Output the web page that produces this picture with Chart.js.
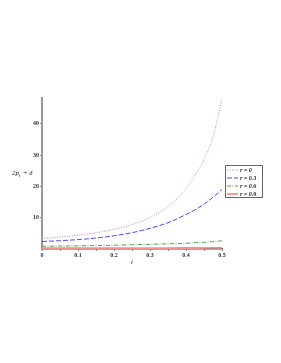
<!DOCTYPE html>
<html>
<head>
<meta charset="utf-8">
<script src="https://cdn.jsdelivr.net/npm/chart.js@4.4.1/dist/chart.umd.min.js"></script>
<style>
  html, body { margin: 0; padding: 0; background: #fff; }
  #wrap { width: 281px; height: 363px; }
</style>
</head>
<body>
<div id="wrap"><canvas id="chart" width="281" height="363"></canvas></div>
<script>
const tValues = [0, 0.05, 0.1, 0.15, 0.2, 0.25, 0.3, 0.35, 0.4, 0.425, 0.45, 0.475, 0.5];
const r0 = [3.3, 3.8, 4.4, 5.2, 6.3, 7.8, 10.1, 13.6, 19.2, 23.5, 28.5, 35.8, 48];
const r03 = [2.4, 2.65, 3.0, 3.5, 4.2, 5.2, 6.6, 8.4, 11.0, 12.5, 14.3, 16.5, 19];
const r06 = [0.9, 0.95, 1.0, 1.1, 1.2, 1.35, 1.5, 1.65, 1.85, 2.0, 2.15, 2.35, 2.6];
const r09 = [0.28, 0.28, 0.29, 0.29, 0.3, 0.3, 0.31, 0.31, 0.32, 0.32, 0.33, 0.33, 0.34];
const seriesLabels = ['r = 0', 'r = 0.3', 'r = 0.6', 'r = 0.9'];
const xTicks = [0, 0.05, 0.1, 0.15, 0.2, 0.25, 0.3, 0.35, 0.4, 0.45, 0.5];
const xLabels = ['0', '', '0.1', '', '0.2', '', '0.3', '', '0.4', '', '0.5'];
const yTicks = [10, 20, 30, 40];

function pts(ys) {
    return tValues.map((t, i) => ({ x: t, y: ys[i] }));
}

const serif = '"Liberation Serif", "DejaVu Serif", serif';

// legend box and axis titles drawn by hand (Maple style)
const extras = {
    id: 'extras',
    afterDraw(chart) {
        const ctx = chart.ctx;
        ctx.save();
        // y title: 2p_t + δ
        ctx.fillStyle = '#222';
        ctx.textBaseline = 'alphabetic';
        ctx.font = 'italic 7px ' + serif;
        ctx.fillText('2p', 12, 175);
        let w = ctx.measureText('2p').width;
        ctx.font = 'italic 5px ' + serif;
        ctx.fillText('t', 12 + w, 177);
        ctx.font = 'italic 7px ' + serif;
        ctx.fillText(' + δ', 12 + w + 2, 175);
        // x title
        ctx.fillText('t', 131, 264);

        // legend
        const lx = 225, ly = 165, lw = 37, lh = 32;
        ctx.strokeStyle = '#666';
        ctx.lineWidth = 1;
        ctx.strokeRect(lx + 0.5, ly + 0.5, lw, lh);
        chart.data.datasets.forEach((ds, i) => {
            const y = ly + 5 + i * 8;
            ctx.beginPath();
            ctx.setLineDash(ds.borderDash || []);
            ctx.strokeStyle = ds.borderColor;
            ctx.lineWidth = ds.borderWidth;
            ctx.moveTo(lx + 2, y);
            ctx.lineTo(lx + 13, y);
            ctx.stroke();
            ctx.setLineDash([]);
            ctx.fillStyle = '#222';
            ctx.font = 'italic bold 6px ' + serif;
            ctx.textBaseline = 'middle';
            ctx.fillText(ds.label, lx + 15, y + 0.5);
        });
        ctx.restore();
    }
};

new Chart(document.getElementById('chart').getContext('2d'), {
    type: 'line',
    data: {
        datasets: [
            { label: seriesLabels[0], data: pts(r0), borderColor: '#c87fc8', borderWidth: 1, borderDash: [1, 1.5] },
            { label: seriesLabels[1], data: pts(r03), borderColor: '#4a4af5', borderWidth: 1, borderDash: [5, 2] },
            { label: seriesLabels[2], data: pts(r06), borderColor: '#4f9f4f', borderWidth: 1, borderDash: [4, 1.5, 1, 1.5] },
            { label: seriesLabels[3], data: pts(r09), borderColor: '#f49090', borderWidth: 1.8 }
        ]
    },
    options: {
        responsive: false,
        animation: false,
        devicePixelRatio: 1,
        layout: { padding: { left: 0, top: 98, right: 59, bottom: 94 } },
        elements: {
            point: { radius: 0 },
            line: { cubicInterpolationMode: 'monotone' }
        },
        plugins: {
            legend: { display: false },
            tooltip: { enabled: false }
        },
        scales: {
            x: {
                type: 'linear',
                min: 0,
                max: 0.5,
                afterFit: function (scale) { scale.height = 20; },
                afterBuildTicks: function (scale) { scale.ticks = xTicks.map(v => ({ value: v })); },
                border: { color: '#555', width: 1.5 },
                grid: { drawOnChartArea: false, tickLength: 2, color: '#888' },
                ticks: {
                    font: { family: serif, size: 6, weight: 'bold' },
                    color: '#333',
                    padding: 1,
                    maxRotation: 0,
                    autoSkip: false,
                    callback: function (value, index) { return xLabels[index]; }
                }
            },
            y: {
                min: 0,
                max: 48.2,
                afterFit: function (scale) { scale.width = 42; },
                afterBuildTicks: function (scale) { scale.ticks = yTicks.map(v => ({ value: v })); },
                border: { color: '#999', width: 2 },
                grid: { drawOnChartArea: false, tickLength: 2, color: '#888' },
                ticks: {
                    font: { family: serif, size: 6, weight: 'bold' },
                    color: '#333',
                    padding: 1
                }
            }
        }
    },
    plugins: [extras]
});
</script>
</body>
</html>
